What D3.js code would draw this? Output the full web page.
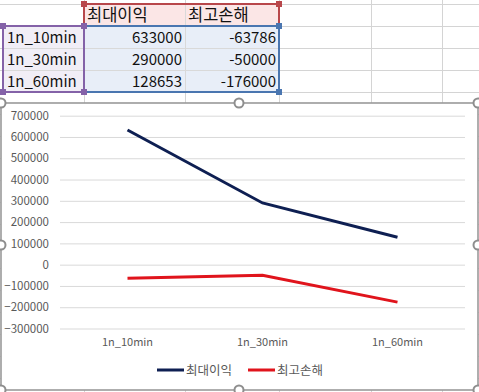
<!DOCTYPE html>
<html><head><meta charset="utf-8">
<script src="https://cdn.jsdelivr.net/npm/d3@7"></script>
<style>html,body{margin:0;padding:0;background:#fff;overflow:hidden}</style>
</head><body>
<svg id="c" width="479" height="392"></svg>
<script>
const categories = ["1n_10min", "1n_30min", "1n_60min"];
const seriesNames = ["최대이익", "최고손해"];
const maxProfit = [633000, 290000, 128653];
const maxLoss = [-63786, -50000, -176000];
const yTicks = [700000, 600000, 500000, 400000, 300000, 200000, 100000, 0, -100000, -200000, -300000];
const seriesColors = ["#0e1f52", "#e0141c"];

const svg = d3.select("#c");
const font = "'Noto Sans CJK KR','Noto Sans',sans-serif";

// ---- spreadsheet grid ----
const colX = [0, 84, 185, 279, 371, 442, 479];
const rowY = [4, 26, 48, 70, 92, 114, 136, 158, 180, 202, 224, 246, 268, 290, 312, 334, 356, 378, 400];
const grid = svg.append("g");
colX.slice(1, -1).forEach(x => grid.append("line").attr("x1", x + .5).attr("x2", x + .5).attr("y1", 0).attr("y2", 392).attr("stroke", "#d4d4d4"));
rowY.forEach(y => grid.append("line").attr("x1", 0).attr("x2", 479).attr("y1", y + .5).attr("y2", y + .5).attr("stroke", "#d4d4d4"));

// ---- table ----
const tbl = svg.append("g");
tbl.append("rect").attr("x", 84).attr("y", 4).attr("width", 195).attr("height", 22).attr("fill", "#fbe6e6");
tbl.append("rect").attr("x", 2).attr("y", 26).attr("width", 82).attr("height", 66).attr("fill", "#f1eef6");
tbl.append("rect").attr("x", 84).attr("y", 26).attr("width", 195).attr("height", 66).attr("fill", "#e8eef8");
[185].forEach(x => tbl.append("line").attr("x1", x + .5).attr("x2", x + .5).attr("y1", 4).attr("y2", 92).attr("stroke", "#d9d9d9"));
[48, 70].forEach(y => tbl.append("line").attr("x1", 2).attr("x2", 279).attr("y1", y + .5).attr("y2", y + .5).attr("stroke", "#d9d9d9"));
function box(x, y, w, h, col) {
  tbl.append("rect").attr("x", x).attr("y", y).attr("width", w).attr("height", h).attr("fill", "none").attr("stroke", col).attr("stroke-width", 2);
  [[x, y], [x + w, y], [x, y + h], [x + w, y + h]].forEach(([cx, cy]) =>
    tbl.append("rect").attr("x", cx - 3).attr("y", cy - 3).attr("width", 6).attr("height", 6).attr("fill", col));
}
box(84, 4, 195, 22, "#b8474b");
box(84, 26, 195, 66, "#4a76b0");
box(3, 26, 81, 66, "#8462a8");

seriesNames.forEach((n, i) => tbl.append("text").attr("x", [87, 188][i]).attr("y", 21).text(n)
  .attr("font-family", font).attr("font-size", 16.5).attr("fill", "#111"));
categories.forEach((c, i) => {
  const y = 43 + i * 22;
  tbl.append("text").attr("x", 7).attr("y", y).text(c).attr("font-family", font).attr("font-size", 15).attr("fill", "#111");
  tbl.append("text").attr("x", 182).attr("y", y).attr("text-anchor", "end").text(maxProfit[i]).attr("font-family", font).attr("font-size", 15).attr("fill", "#111");
  tbl.append("text").attr("x", 276).attr("y", y).attr("text-anchor", "end").text(maxLoss[i]).attr("font-family", font).attr("font-size", 15).attr("fill", "#111");
});

// ---- chart area ----
const ch = svg.append("g");
ch.append("rect").attr("x", 1).attr("y", 103).attr("width", 477).attr("height", 287).attr("fill", "#fff").attr("stroke", "#9a9a9a").attr("stroke-width", 1.6);

const x = d3.scaleBand().domain(categories).range([60, 465]);
const y = d3.scaleLinear().domain([-300000, 700000]).range([328.5, 115.7]);

const yAxis = ch.append("g").attr("transform", "translate(60,0)")
  .call(d3.axisLeft(y).tickValues(yTicks).tickSize(-405).tickFormat(d3.format("d")).tickPadding(11));
yAxis.select(".domain").remove();
yAxis.selectAll(".tick line").attr("stroke", "#d9d9d9");
yAxis.selectAll("text").attr("font-family", font).attr("font-size", 11.5).attr("fill", "#595959");

const xAxis = ch.append("g").attr("transform", "translate(0,328.5)")
  .call(d3.axisBottom(x).tickSize(0).tickPadding(10));
xAxis.select(".domain").remove();
xAxis.selectAll("text").attr("font-family", font).attr("font-size", 11).attr("fill", "#595959");

const line = d3.line().x((d, i) => x(categories[i]) + x.bandwidth() / 2).y(d => y(d));
[maxProfit, maxLoss].forEach((s, k) => ch.append("path").datum(s).attr("d", line)
  .attr("fill", "none").attr("stroke", seriesColors[k]).attr("stroke-width", 3).attr("stroke-linecap", "butt"));

const lg = ch.append("g");
const legX = [157, 248];
seriesNames.forEach((n, i) => {
  lg.append("line").attr("x1", legX[i]).attr("x2", legX[i] + 27).attr("y1", 370).attr("y2", 370).attr("stroke", seriesColors[i]).attr("stroke-width", 3);
  lg.append("text").attr("x", legX[i] + 29).attr("y", 375).text(n).attr("font-family", font).attr("font-size", 12.5).attr("fill", "#595959");
});

[[1, 103], [239, 103], [478, 103], [1, 245], [478, 245], [1, 390], [239, 390], [478, 390]].forEach(([cx, cy]) =>
  ch.append("circle").attr("cx", cx).attr("cy", cy).attr("r", 4.5).attr("fill", "#fff").attr("stroke", "#8e8e8e").attr("stroke-width", 2));
</script>
</body></html>
